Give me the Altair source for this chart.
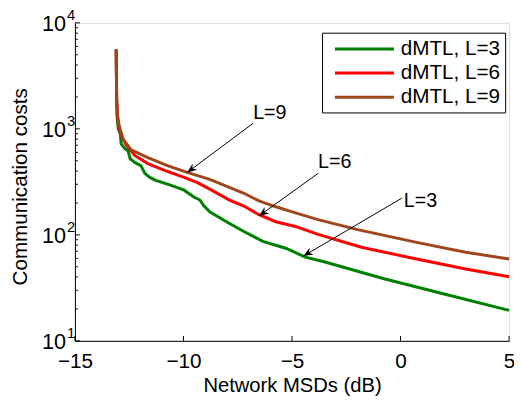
import math
import altair as alt
import pandas as pd

# ---- data ----
series = ["dMTL, L=3", "dMTL, L=6", "dMTL, L=9"]
colors = ["#008000", "#ff0000", "#a0461c"]

x_l3 = [-13.10, -13.08, -13.05, -13.00, -12.91, -12.87, -12.69, -12.55, -12.46, -12.23,
        -11.96, -11.78, -11.55, -11.28, -10.60, -9.97, -9.51, -9.24, -9.06, -8.79,
        -8.02, -7.24, -6.34, -5.29, -4.39, -3.48, -0.76, 2.28, 5.00]
y_l3 = [5600, 2012, 1231, 994, 893, 721, 648, 621, 523, 480,
        450, 380, 348, 327, 294, 264, 227, 213, 188, 165,
        133, 108, 86.9, 74.8, 61.7, 55.4, 38.5, 26.8, 19.4]

x_l6 = [-13.10, -13.08, -13.05, -12.96, -12.82, -12.64, -12.23, -11.64, -10.87, -9.97,
        -9.38, -8.79, -7.88, -7.24, -6.52, -5.75, -4.84, -3.80, -1.80, 0.74, 3.00, 5.00]
y_l6 = [5600, 2012, 1312, 1015, 820, 706, 558, 470, 405, 348,
        313, 270, 213, 188, 155, 133, 120, 101, 76.4, 59.1, 47.7, 40.2]

x_l9 = [-13.10, -13.08, -13.05, -12.96, -12.78, -12.41, -11.64, -10.74, -9.83, -8.79,
        -7.24, -6.52, -5.75, -4.84, -3.80, -1.98, 0.74, 3.00, 5.00]
y_l9 = [5600, 2012, 1399, 1060, 802, 634, 535, 450, 388, 334,
        248, 209, 184, 161, 139, 112, 85.0, 68.6, 59.1]

# annotations: label, text anchor, arrow start, arrow tip
ann_labels = ["L=9", "L=6", "L=3"]
ann_tx = [-6.79, -3.80, 0.15]
ann_ty = [1231, 423, 184]
ann_x0 = [-6.79, -3.80, 0.06]
ann_y0 = [1129, 380, 222]
ann_x1 = [-9.83, -6.52, -4.48]
ann_y1 = [388, 151, 63]

x_ticks = [-15, -10, -5, 0, 5]
y_major = [10, 100, 1000, 10000]
y_exps = ["1", "2", "3", "4"]
y_minor = [20, 30, 40, 50, 60, 70, 80, 90,
           200, 300, 400, 500, 600, 700, 800, 900,
           2000, 3000, 4000, 5000, 6000, 7000, 8000, 9000]

# ---- layout ----
W, H = 441, 323
XDOM = [-15, 5]
YDOM = [10, 10000]
FONT = "Liberation Sans"

rows = []
for name, xs, ys in [(series[0], x_l3, y_l3), (series[1], x_l6, y_l6), (series[2], x_l9, y_l9)]:
    for a, b in zip(xs, ys):
        rows.append({"series": name, "x": a, "y": b})
df = pd.DataFrame(rows)


def px(v):
    return (v - XDOM[0]) / (XDOM[1] - XDOM[0]) * W


def py(v):
    return H * (1 - (math.log10(v) - 1) / 3)


angles = []
for a0, b0, a1, b1 in zip(ann_x0, ann_y0, ann_x1, ann_y1):
    dx = px(a1) - px(a0)
    dy = py(b1) - py(b0)
    angles.append(math.degrees(math.atan2(dx, -dy)) % 360)

ann = pd.DataFrame({"label": ann_labels, "tx": ann_tx, "ty": ann_ty,
                    "x0": ann_x0, "y0": ann_y0, "x1": ann_x1, "y1": ann_y1,
                    "angle": angles})

xsc = alt.Scale(domain=XDOM, nice=False, zero=False)
ysc = alt.Scale(type="log", domain=YDOM, nice=False)

lines = alt.Chart(df).mark_line(strokeWidth=3).encode(
    x=alt.X("x:Q", scale=xsc, axis=alt.Axis(
        values=x_ticks, ticks=False, tickSize=0, grid=False,
        labelFlush=False, labelOverlap=False,
        labelFontSize=21, labelFont=FONT, labelColor="black",
        labelBaseline="alphabetic", labelPadding=27,
        domainColor="black", domainWidth=1,
        title="Network MSDs (dB)", titleFontSize=20.5, titleFont=FONT,
        titleFontWeight="normal", titleColor="black",
        titleBaseline="alphabetic", titleY=51, titleX=W / 2)),
    y=alt.Y("y:Q", scale=ysc, axis=alt.Axis(
        values=y_major, labels=False, ticks=False, tickSize=0, grid=False,
        domainColor="black", domainWidth=1,
        title="Communication costs", titleFontSize=21, titleFont=FONT,
        titleFontWeight="normal", titleColor="black",
        titleBaseline="alphabetic", titleAngle=270, titleX=-49, titleY=166,
        titleAlign="center")),
    color=alt.Color("series:N", scale=alt.Scale(domain=series, range=colors),
                    legend=alt.Legend(
                        title=None, orient="none", legendX=251, legendY=10,
                        symbolType="M-3,0H3", symbolSize=400, symbolStrokeWidth=3,
                        labelFontSize=21, labelFont=FONT, labelColor="black",
                        strokeColor="black", fillColor="white", padding=5,
                        symbolOffset=26.5, labelOffset=25.5, rowPadding=2.5)),
)

xt = pd.DataFrame({"v": x_ticks})
ymaj = pd.DataFrame({"v": y_major, "e": y_exps})
ymin = pd.DataFrame({"v": y_minor})

xtick_marks = alt.Chart(xt).mark_rule(color="black", strokeWidth=1).encode(
    x=alt.X("v:Q", scale=xsc), y=alt.value(H), y2=alt.value(H - 5))
ymaj_marks = alt.Chart(ymaj).mark_rule(color="black", strokeWidth=1).encode(
    y=alt.Y("v:Q", scale=ysc), x=alt.value(0), x2=alt.value(5))
ymin_marks = alt.Chart(ymin).mark_rule(color="black", strokeWidth=1).encode(
    y=alt.Y("v:Q", scale=ysc), x=alt.value(0), x2=alt.value(3))

ylab_base = alt.Chart(ymaj).mark_text(
    align="right", baseline="alphabetic", dy=8, fontSize=22, font=FONT, color="black"
).encode(y=alt.Y("v:Q", scale=ysc), x=alt.value(-9), text=alt.value("10"))
ylab_exp = alt.Chart(ymaj).mark_text(
    align="left", baseline="alphabetic", dy=-3, fontSize=15, font=FONT, color="black"
).encode(y=alt.Y("v:Q", scale=ysc), x=alt.value(-8), text="e:N")

arrow_lines = alt.Chart(ann).mark_rule(color="black", strokeWidth=1).encode(
    x=alt.X("x0:Q", scale=xsc), y=alt.Y("y0:Q", scale=ysc),
    x2="x1:Q", y2="y1:Q")
arrow_heads = alt.Chart(ann).mark_point(
    shape="M0,0L0.45,1.1L0,0.75L-0.45,1.1Z", filled=True, size=324,
    color="black", opacity=1, strokeWidth=0
).encode(x=alt.X("x1:Q", scale=xsc), y=alt.Y("y1:Q", scale=ysc),
         angle=alt.Angle("angle:Q", scale=None))
ann_text = alt.Chart(ann).mark_text(
    align="left", baseline="alphabetic", fontSize=20, font=FONT, color="black"
).encode(x=alt.X("tx:Q", scale=xsc), y=alt.Y("ty:Q", scale=ysc), text="label:N")

chart = alt.layer(
    lines, xtick_marks, ymaj_marks, ymin_marks, ylab_base, ylab_exp,
    arrow_lines, arrow_heads, ann_text
).properties(
    width=W, height=H,
    autosize=alt.AutoSizeParams(type="none"),
    padding={"left": 68, "top": 12, "right": 5, "bottom": 58},
).configure_view(strokeWidth=0).configure(background="white")

chart.save("out.html", embed_options={"renderer": "svg", "actions": False})
